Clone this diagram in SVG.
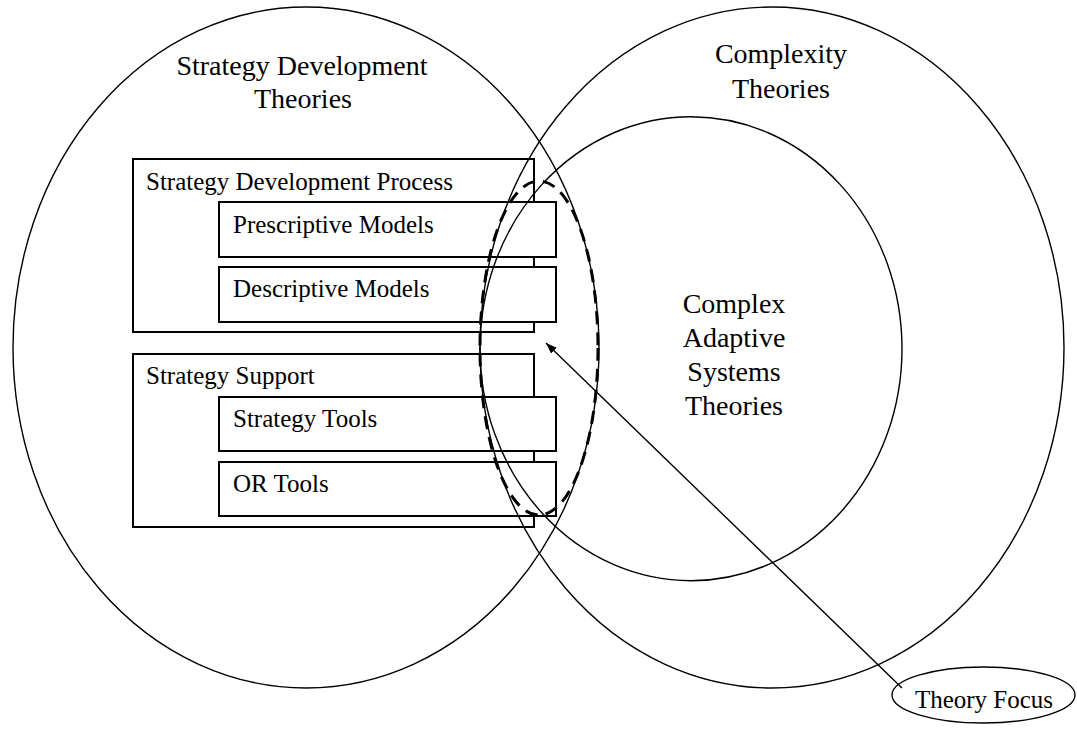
<svg xmlns="http://www.w3.org/2000/svg" width="1077" height="729" viewBox="0 0 1077 729">
  <style>
    .bg { fill: #ffffff; }
    .box { fill: #ffffff; stroke: #000000; stroke-width: 2; }
    .ell { fill: none; stroke: #000000; stroke-width: 1.4; }
    .dash { fill: none; stroke: #000000; stroke-width: 3; stroke-dasharray: 13 8; }
    .t { font-family: "Liberation Serif", "Times New Roman", serif; fill: #000000; }
    .big { font-size: 28px; text-anchor: middle; }
    .lbl { font-size: 25px; }
    .conn { fill: none; stroke: #000000; stroke-width: 1.4; }
  </style>
  <defs>
    <marker id="arrow" markerUnits="userSpaceOnUse" markerWidth="12" markerHeight="10" refX="11" refY="4" orient="auto">
      <path d="M0,0 L11,4 L0,8 Z" fill="#000000"/>
    </marker>
  </defs>
  <rect class="bg" x="0" y="0" width="1077" height="729"/>

  <g id="sdp-box">
    <rect class="box" x="133" y="159" width="401" height="173"/>
    <text class="t lbl" x="146" y="190">Strategy Development Process</text>
  </g>
  <g id="prescriptive">
    <rect class="box" x="219" y="202" width="337" height="55"/>
    <text class="t lbl" x="233" y="233">Prescriptive Models</text>
  </g>
  <g id="descriptive">
    <rect class="box" x="219" y="267" width="337" height="55"/>
    <text class="t lbl" x="233" y="297">Descriptive Models</text>
  </g>
  <g id="support-box">
    <rect class="box" x="133" y="354" width="401" height="173"/>
    <text class="t lbl" x="146" y="384">Strategy Support</text>
  </g>
  <g id="strategy-tools">
    <rect class="box" x="219" y="397" width="337" height="54"/>
    <text class="t lbl" x="233" y="427">Strategy Tools</text>
  </g>
  <g id="or-tools">
    <rect class="box" x="219" y="462" width="337" height="54"/>
    <text class="t lbl" x="233" y="492">OR Tools</text>
  </g>

  <g id="strategy-development-theories">
    <ellipse class="ell" cx="306" cy="347.5" rx="293" ry="340.5"/>
    <text class="t big" x="302" y="75">Strategy Development</text>
    <text class="t big" x="303" y="108">Theories</text>
  </g>
  <g id="complexity-theories">
    <ellipse class="ell" cx="772" cy="347.5" rx="292" ry="340.5"/>
    <text class="t big" x="781" y="63">Complexity</text>
    <text class="t big" x="781" y="98">Theories</text>
  </g>
  <g id="cas-theories">
    <ellipse class="ell" cx="691" cy="348.7" rx="211" ry="232"/>
    <text class="t big" x="734" y="313">Complex</text>
    <text class="t big" x="734" y="347">Adaptive</text>
    <text class="t big" x="734" y="381">Systems</text>
    <text class="t big" x="734" y="415">Theories</text>
  </g>
  <g id="theory-focus-area">
    <ellipse class="dash" cx="539" cy="348" rx="59" ry="167"/>
  </g>
  <g id="theory-focus">
    <ellipse class="ell" cx="983.5" cy="695" rx="91.5" ry="28"/>
    <text class="t lbl" x="984" y="708" text-anchor="middle">Theory Focus</text>
  </g>

  <g id="connectors">
    <line class="conn" x1="902" y1="688" x2="546" y2="343" marker-end="url(#arrow)"/>
  </g>
</svg>
